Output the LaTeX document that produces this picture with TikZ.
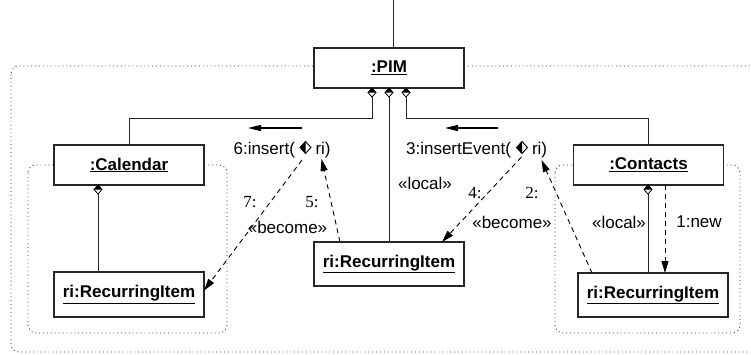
\documentclass[tikz,border=0pt]{standalone}
\usepackage{fontspec}
\setmainfont{Liberation Sans}
\newfontfamily\numfont{Liberation Serif}
\usetikzlibrary{arrows.meta,calc}

\begin{document}
\begin{tikzpicture}[x=1pt,y=-1pt,
  every node/.style={inner sep=0pt, outer sep=0pt, font=\fontsize{17}{19}\selectfont},
  obj/.style={draw=black!85, line width=1.1pt, fill=white, minimum width=150pt, minimum height=40pt},
  link/.style={draw=black!85, line width=0.9pt},
  msg/.style={draw=black, line width=0.9pt, dash pattern=on 5pt off 4pt,
    -{Triangle[length=12pt,width=7pt]}},
  flow/.style={draw=black, line width=1.3pt, -{Triangle[length=13pt,width=6pt]}},
  region/.style={draw=black!80, line width=0.9pt, dash pattern=on 0.9pt off 3pt, rounded corners=8pt},
  num/.style={font=\fontsize{17}{19}\selectfont\numfont},
  comp/.pic={
    \fill[black] (0,0) -- (-4,4.5) -- (4,4.5) -- cycle;
    \draw[line width=0.8pt, line join=miter] (0,0) -- (-4,4.5) -- (0,9) -- (4,4.5) -- cycle;
  },
  halfdia/.pic={
    \fill[black] (0,-6) -- (-5.5,0) -- (0,6) -- cycle;
    \draw[line width=0.9pt] (0,-6) -- (-5.5,0) -- (0,6) -- (5.5,0) -- cycle;
  }]
\useasboundingbox (0,0) rectangle (751,354);
\clip (0,0) rectangle (751,354);
\fill[white] (0,0) rectangle (751,354);

% containment regions
\draw[region] (11,66) rectangle (790,352);
\draw[region] (28,165) rectangle (227,333);
\draw[region] (555,165) rectangle (740,333);

% objects
\node[obj] (pim) at (389,68) {\underline{\textbf{:PIM}}};
\node[obj] (cal) at (129,165) {\underline{\textbf{:Calendar}}};
\node[obj] (con) at (648.5,165) {\underline{\textbf{:Contacts}}};
\node[obj, minimum height=45pt] (cri) at (129,294.5) {\underline{\textbf{ri:RecurringItem}}};
\node[obj, minimum height=44pt] (mri) at (389,264) {\underline{\textbf{ri:RecurringItem}}};
\node[obj, minimum height=44pt] (tri) at (653,295) {\underline{\textbf{ri:RecurringItem}}};

% incoming link from above
\coordinate (top) at (393,0);
\draw[link] (top) -- (top |- pim.north);

% composition diamonds on :PIM
\pic at (372,88) {comp};
\pic at (389,88) {comp};
\pic at (406,88) {comp};
\coordinate (d1) at (372,97);
\coordinate (d2) at (389,97);
\coordinate (d3) at (406,97);
\coordinate (elbowL) at (372,118);
\coordinate (elbowR) at (406,118);
\draw[link] (d1) -- (elbowL) -| (cal.north);
\draw[link] (d2) -- (mri.north);
\draw[link] (d3) -- (elbowR) -| (con.north);

% composition inside :Calendar and :Contacts
\pic at (98,185) {comp};
\coordinate (cd) at (98,194);
\draw[link] (cd) -- (cd |- cri.north);
\pic at (648,185) {comp};
\coordinate (td) at (648,194);
\draw[link] (td) -- (td |- tri.north);

% message direction arrows
\coordinate (a6s) at (302,128);
\coordinate (a6e) at (248,128);
\draw[flow] (a6s) -- (a6e);
\coordinate (a3s) at (498,128);
\coordinate (a3e) at (445,128);
\draw[flow] (a3s) -- (a3e);

% message labels
\node[anchor=base east] (m6) at (295,154) {6:insert(};
\pic at (305.5,147.5) {halfdia};
\node[anchor=base west] (m6r) at (315.5,154) {ri)};
\node[anchor=base east] (m3) at (511,154) {3:insertEvent(};
\pic at (522,147.5) {halfdia};
\node[anchor=base west] (m3r) at (532,154) {ri)};

% dashed messages
\coordinate (s7) at (302,160);
\coordinate (t5) at (321.5,159);
\coordinate (s4) at (521.5,157);
\coordinate (t2) at (541.5,160);
\draw[msg] (s7) -- ($(cri.east)+(0,-4)$);
\draw[msg] ($(mri.north)+(-49,0)$) -- (t5);
\draw[msg] (s4) -- ($(mri.north)+(53,0)$);
\draw[msg] ($(tri.north)+(-61,0)$) -- (t2);
\draw[msg] ($(con.south)+(16.5,0)$) -- ($(tri.north)+(12,0)$);

% annotations
\node[num] (n7) at (250,202) {7:};
\node[num] (n5) at (312,202) {5:};
\node (b1) at (287.5,227) {«become»};
\node (l1) at (425,183) {«local»};
\node[num] (n4) at (475,193) {4:};
\node[num] (n2) at (532,193) {2:};
\node (b2) at (512,222) {«become»};
\node (l2) at (619,222) {«local»};
\node (n1) at (699,222) {1:new};
\end{tikzpicture}
\end{document}
